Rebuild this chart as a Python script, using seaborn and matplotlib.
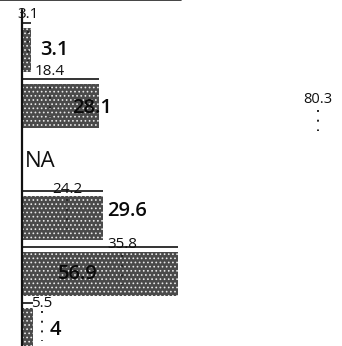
import matplotlib
matplotlib.use("Agg")
import matplotlib.pyplot as plt
import seaborn as sns
import pandas as pd
import numpy as np

# data
groups = ["g1", "g2", "g3", "g4", "g5", "g6"]
thin_vals = [3.1, 18.4, np.nan, 24.2, 35.8, 5.5]
thick_vals = [3.1, 28.1, np.nan, 29.6, 56.9, 4.0]
missing_label = "NA"
extra_val = 80.3

# label placement (layout only)
thin_label_x = [2.2, 10.2, 0, 16.4, 36.4, 7.3]
thin_label_dy = [-0.16, -0.14, 0, -0.02, -0.05, 0.0]
thick_label_x = [11.6, 25.5, 0, 38.2, 20.4, 12.0]
thick_label_dy = [0.0, 0.04, 0, -0.12, 0.0, 0.0]

data_df = pd.DataFrame({"group": groups, "thin": thin_vals, "thick": thick_vals})

sns.set_style("white")
plt.rcParams["font.family"] = ["Open Sans", "DejaVu Sans"]
plt.rcParams["hatch.color"] = "#e8e8e8"
plt.rcParams["hatch.linewidth"] = 0.7

fig = plt.figure(figsize=(3.42, 3.46), dpi=100)
ax = fig.add_axes([0, 0, 1, 1])

# thick bars
sns.barplot(data=data_df, x="thick", y="group", orient="h",
            color="#4a4a4a", saturation=1, width=0.79,
            hatch="....", edgecolor="#e8e8e8", linewidth=0, ax=ax)

line_off = -0.48
for i, row in data_df.iterrows():
    if np.isnan(row["thick"]):
        ax.text(0.9, i, missing_label, fontsize=16, va="center", ha="left",
                color="#111111")
        continue
    # thin line for the first series
    ax.hlines(i + line_off, 0, row["thick"], color="#333333", lw=1.4)
    ax.text(thin_label_x[i], i + line_off + thin_label_dy[i], f"{row['thin']:g}",
            fontsize=11, ha="center", va="center", color="#111111")
    # dotted connector under the thin label
    ax.vlines(thin_label_x[i], i + line_off + 0.14, i + 0.2, color="#222222",
              lw=1.4, linestyles=(0, (1, 4)))
    ax.text(thick_label_x[i], i + thick_label_dy[i], f"{row['thick']:g}",
            fontsize=14.5, fontweight="semibold", ha="center", va="center",
            color="#0a0a0a")

# stray value on the right
ax.text(107.6, 0.89, f"{extra_val:g}", fontsize=10.5, ha="center", va="center",
        color="#111111")
ax.vlines(107.6, 1.07, 1.45, color="#222222", lw=1.4, linestyles=(0, (1, 4)))

# axis line and top rule
ax.axvline(0, ymin=0, ymax=0.971, color="#111111", lw=1.6)
ax.axhline(-0.89, xmin=0, xmax=0.53, color="#222222", lw=1.2)

ax.set_xlim(-8, 116.4)
ax.set_ylim(5.286, -0.893)
ax.set_xlabel("")
ax.set_ylabel("")
ax.set_xticks([])
ax.set_yticks([])
sns.despine(ax=ax, left=True, bottom=True)

fig.savefig("out.png", dpi=100)
